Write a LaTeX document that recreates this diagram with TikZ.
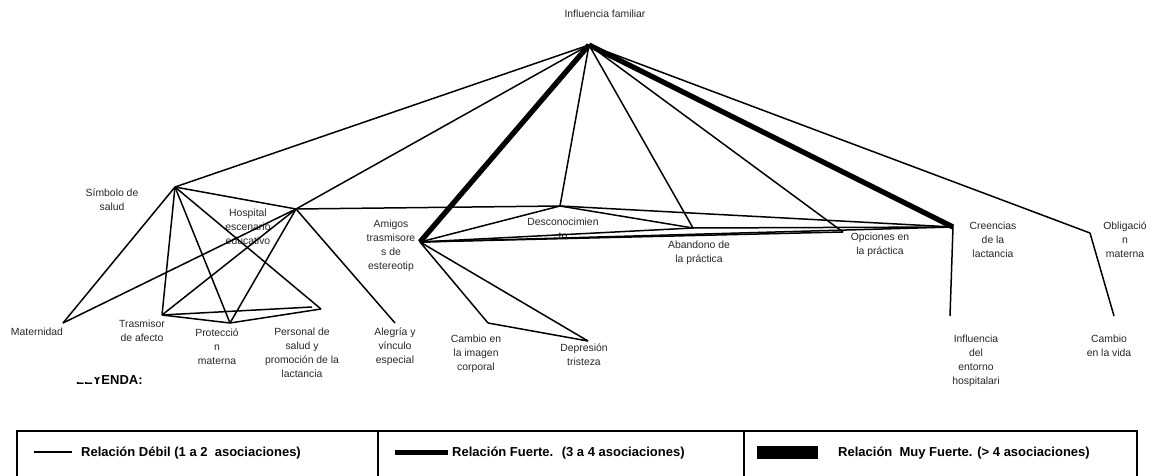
\documentclass[tikz,border=0pt]{standalone}
\usepackage{fontspec}
\setmainfont{Liberation Sans}
\begin{document}
\begin{tikzpicture}[x=1pt,y=-1pt,
  lbl/.style={font=\fontsize{10.4}{14}\selectfont, align=center, inner sep=0pt, anchor=north, text=black!85},
  weak/.style={line width=1.5pt},
  strong/.style={line width=5.3pt},
  legtxt/.style={font=\bfseries\fontsize{13}{15}\selectfont, anchor=west, inner sep=0pt},
  frame/.style={line width=1.7pt}]
\useasboundingbox (0,0) rectangle (1153,476);

% junction points of the concept map
\coordinate (inf) at (589,45);
\coordinate (sim) at (175,187);
\coordinate (hos) at (296,209);
\coordinate (ami) at (420,242);
\coordinate (des) at (560,206);
\coordinate (aba) at (693,228);
\coordinate (opc) at (843,232);
\coordinate (cre) at (953,227);
\coordinate (obl) at (1090,233);
\coordinate (mat) at (63,323);
\coordinate (tra) at (162,315);
\coordinate (pro) at (230,323);
\coordinate (per) at (321,309);
\coordinate (pert) at (312,307);
\coordinate (ale) at (395,323);
\coordinate (cim) at (488,323);
\coordinate (dep) at (588,341);
\coordinate (ent) at (950,316);
\coordinate (cvi) at (1114,316);

% labels
\node[lbl] (Linf) at (605,9.5) {Influencia familiar};
\node[lbl] (Lsim) at (112,188.5) {Símbolo de\\salud};
\node[lbl] (Lhos) at (248,208.5) {Hospital\\escenario\\educativo};
\node[lbl] (Lmat) at (37,327.5) {Maternidad};
\node[lbl] (Ltra) at (142,319.5) {Trasmisor\\de afecto};
\node[lbl] (Lpro) at (217,328.5) {Protecció\\n\\materna};
\node[lbl] (Lper) at (302,327.5) {Personal de\\salud y\\promoción de la\\lactancia};
\node[lbl] (Lale) at (395,327.5) {Alegría y\\vínculo\\especial};
\node[lbl] (Lami) at (391,219.5) {Amigos\\trasmisore\\s de\\estereotip};
\node[lbl] (Ldes) at (563,217.5) {Desconocimien\\to};
\node[lbl] (Laba) at (699,240.5) {Abandono de\\la práctica};
\node[lbl] (Lopc) at (880,232.5) {Opciones en\\la práctica};
\node[lbl] (Lcre) at (993,221.5) {Creencias\\de la\\lactancia};
\node[lbl] (Lobl) at (1125,221.5) {Obligació\\n\\materna};
\node[lbl] (Lent) at (976,334.5) {Influencia\\del\\entorno\\hospitalari};
\node[lbl] (Lcvi) at (1109,334.5) {Cambio\\en la vida};
\node[lbl] (Lcim) at (476,334.5) {Cambio en\\la imagen\\corporal};
\node[lbl] (Ldep) at (584,343.5) {Depresión\\tristeza};

% weak relations
\draw[weak] (inf) -- (sim);
\draw[weak] (inf) -- (hos);
\draw[weak] (inf) -- (des);
\draw[weak] (inf) -- (aba);
\draw[weak] (inf) -- (opc);
\draw[weak] (inf) -- (obl);
\draw[weak] (sim) -- (mat);
\draw[weak] (sim) -- (tra);
\draw[weak] (sim) -- (pro);
\draw[weak] (sim) -- (per);
\draw[weak] (sim) -- (hos);
\draw[weak] (hos) -- (mat);
\draw[weak] (hos) -- (tra);
\draw[weak] (hos) -- (pro);
\draw[weak] (hos) -- (ale);
\draw[weak] (hos) -- (des);
\draw[weak] (tra) -- (pro);
\draw[weak] (tra) -- (pert);
\draw[weak] (pro) -- (per);
\draw[weak] (ami) -- (des);
\draw[weak] (ami) -- (aba);
\draw[weak] (ami) -- (opc);
\draw[weak] (ami) -- (cre);
\draw[weak] (ami) -- (cim);
\draw[weak] (ami) -- (dep);
\draw[weak] (cim) -- (dep);
\draw[weak] (des) -- (aba);
\draw[weak] (des) -- (cre);
\draw[weak] (aba) -- (cre);
\draw[weak] (cre) -- (ent);
\draw[weak] (obl) -- (cvi);

% strong relations
\draw[strong] (inf) -- (ami);
\draw[strong] (inf) -- (cre);

% legend heading, its upper left part cut off
\begin{scope}
  \clip (70,396) -- (70,381.5) -- (92.5,381.5) -- (92.5,377) -- (101.5,377)
        -- (101.5,366) -- (160,366) -- (160,396) -- cycle;
  \node[font=\bfseries\fontsize{13}{15}\selectfont, anchor=base west, inner sep=0pt] (ley) at (76,384) {LEYENDA:};
\end{scope}

% legend table
\draw[frame] (17,477) -- (17,431) -- (1137,431) -- (1137,477);
\draw[frame] (378,431) -- (378,477);
\draw[frame] (744,431) -- (744,477);

\coordinate (s1a) at (34,452);
\coordinate (s1b) at (72,452);
\draw[line width=1.5pt] (s1a) -- (s1b);
\node[legtxt] (t1) at (81,453) {Relación Débil (1 a 2~ asociaciones)};

\coordinate (s2a) at (395,452.5);
\coordinate (s2b) at (448,452.5);
\draw[line width=5pt] (s2a) -- (s2b);
\node[legtxt] (t2) at (452,453) {Relación Fuerte.~ (3 a 4 asociaciones)};

\fill (757,446) rectangle (818,459);
\node[legtxt] (t3) at (838,453) {Relación~ Muy Fuerte. (> 4 asociaciones)};
\end{tikzpicture}
\end{document}
